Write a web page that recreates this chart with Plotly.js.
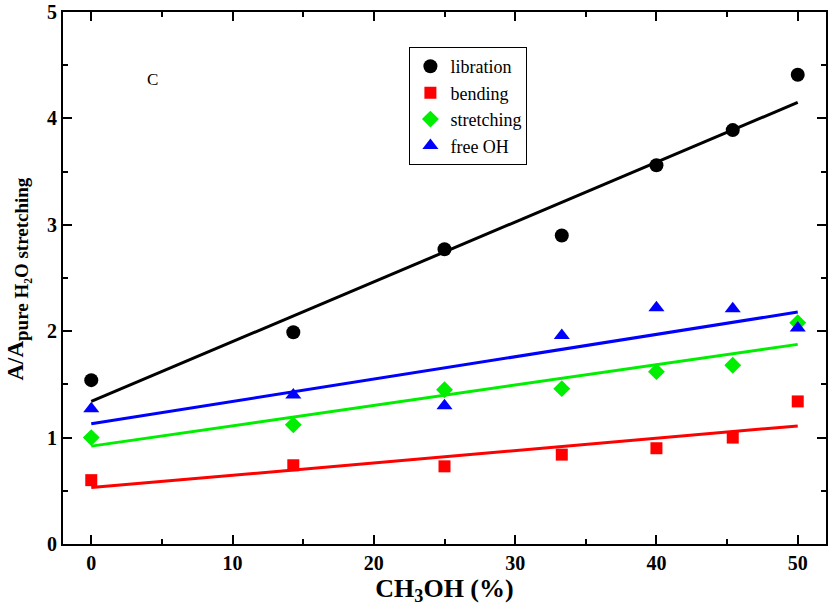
<!DOCTYPE html>
<html>
<head>
<meta charset="utf-8">
<script src="https://cdn.plot.ly/plotly-3.0.1.min.js"></script>
<style>html,body{margin:0;padding:0;background:#fff;}#chart{width:830px;height:607px;}</style>
</head>
<body>
<div id="chart"></div>
<script>
// Data
const methanol = [0, 14.3, 25, 33.3, 40, 45.4, 50];
const libration = [1.54, 1.99, 2.77, 2.90, 3.56, 3.89, 4.41];
const bending = [0.60, 0.74, 0.73, 0.84, 0.90, 1.00, 1.34];
const stretching = [1.00, 1.12, 1.45, 1.46, 1.62, 1.68, 2.08];
const freeOH = [1.27, 1.40, 1.30, 1.96, 2.22, 2.21, 2.03];

// Linear fits (values at the ends of the fitted range)
const fitX = [0, 50];
const librationFit = [1.34, 4.15];
const bendingFit = [0.53, 1.11];
const stretchingFit = [0.92, 1.876];
const freeOHFit = [1.13, 2.18];

const seriesNames = ['libration', 'bending', 'stretching', 'free OH'];
const xTicks = [0, 10, 20, 30, 40, 50];
const yTicks = [0, 1, 2, 3, 4, 5];

const serif = 'Liberation Serif, Times New Roman, serif';

const series = [
  {name: seriesNames[0], y: libration, fit: librationFit, color: '#000000', symbol: 'circle', size: 14},
  {name: seriesNames[1], y: bending, fit: bendingFit, color: '#ff0000', symbol: 'square', size: 12},
  {name: seriesNames[2], y: stretching, fit: stretchingFit, color: '#00ee00', symbol: 'diamond', size: 13},
  {name: seriesNames[3], y: freeOH, fit: freeOHFit, color: '#0000ff', symbol: 'triangle-up', size: 14}
];

const traces = [];
series.forEach(s => {
  traces.push({
    x: fitX, y: s.fit, mode: 'lines', showlegend: false, hoverinfo: 'skip',
    line: {color: s.color, width: 3}
  });
});
series.forEach(s => {
  traces.push({
    x: methanol, y: s.y, mode: 'markers', name: s.name,
    marker: {color: s.color, symbol: s.symbol, size: s.size, line: {width: 0}}
  });
});

const axisCommon = {
  showgrid: false, zeroline: false, showline: true, linecolor: '#000', linewidth: 2,
  mirror: 'allticks', ticks: 'inside', ticklen: 9, tickwidth: 2, tickcolor: '#000',
  tickfont: {family: serif, size: 20, color: '#000', weight: 'bold'}
};

const layout = {
  width: 830, height: 607,
  margin: {l: 63, r: 4, t: 12, b: 63},
  paper_bgcolor: '#fff', plot_bgcolor: '#fff',
  showlegend: true,
  legend: {
    x: 0.454, y: 0.934, xanchor: 'left', yanchor: 'top',
    bgcolor: '#fff', bordercolor: '#000', borderwidth: 1,
    font: {family: serif, size: 18, color: '#000'},
    itemwidth: 30, tracegroupgap: 0
  },
  xaxis: Object.assign({}, axisCommon, {
    range: [-2, 52], tickvals: xTicks, ticktext: xTicks.map(String),
    minor: {dtick: 5, tick0: 0, ticks: 'inside', ticklen: 5, tickwidth: 2, tickcolor: '#000'},
    title: {text: 'CH<sub>3</sub>OH (%)', font: {family: serif, size: 26, color: '#000', weight: 'bold'}, standoff: 4}
  }),
  yaxis: Object.assign({}, axisCommon, {
    range: [0, 5], tickvals: yTicks, ticktext: yTicks.map(String),
    minor: {dtick: 0.5, tick0: 0, ticks: 'inside', ticklen: 5, tickwidth: 2, tickcolor: '#000'}
  }),
  annotations: [
    {
      text: 'C', x: 4.3, y: 4.37, xref: 'x', yref: 'y', showarrow: false,
      font: {family: serif, size: 17, color: '#000'}
    },
    {
      text: 'A/A<sub><span style="font-size:19px">pure H\u2082O stretching</span></sub>',
      xref: 'paper', yref: 'paper', x: 0, y: 0.497, xanchor: 'center', yanchor: 'middle',
      xshift: -45, textangle: -90, showarrow: false,
      font: {family: serif, size: 23, color: '#000', weight: 'bold'}
    }
  ]
};

Plotly.newPlot('chart', traces, layout, {displayModeBar: false, staticPlot: true});
</script>
</body>
</html>
